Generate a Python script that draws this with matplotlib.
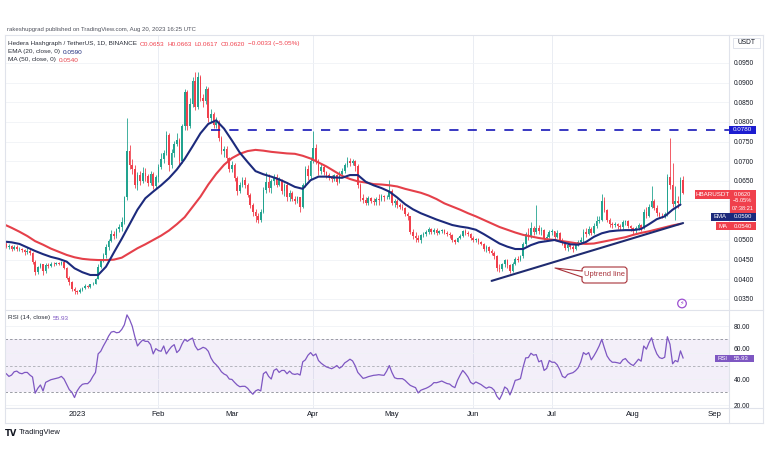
import numpy as np
import pandas as pd
import matplotlib
matplotlib.use("Agg")
import matplotlib.pyplot as plt
import matplotlib.dates as mdates
from matplotlib.patches import Rectangle, FancyBboxPatch, Polygon, Circle
from matplotlib.lines import Line2D
from matplotlib.text import Annotation
from matplotlib.transforms import Affine2D

FONT = ["Liberation Sans Narrow", "Liberation Sans", "DejaVu Sans"]
plt.rcParams["font.family"] = FONT

# ---------------- data (HBAR/USDT daily) ----------------
start_date = "2022-12-04"
first_open = 0.0480

close = [
    # Dec 2022 (4..31)
    0.0490,0.0482,0.0485,0.0478,0.0482,0.0476,0.0478,0.0474,0.0469,0.0473,0.0467,0.0445,0.0418,0.0432,
    0.0438,0.0420,0.0437,0.0435,0.0440,0.0438,0.0442,0.0440,0.0444,0.0430,0.0404,0.0392,0.0376,0.0371,
    # Jan
    0.0368,0.0374,0.0378,0.0383,0.0381,0.0387,0.0389,0.0402,0.0432,0.0448,0.0462,0.0482,0.0498,0.0516,
    0.0511,0.0527,0.0532,0.0545,0.0608,0.0725,0.0690,0.0680,0.0640,0.0665,0.0650,0.0670,0.0662,0.0645,
    0.0668,0.0638,0.0660,
    # Feb
    0.0685,0.0705,0.0720,0.0768,0.0690,0.0720,0.0745,0.0755,0.0700,0.0790,0.0875,0.0790,0.0845,0.0905,
    0.0838,0.0915,0.0860,0.0852,0.0885,0.0810,0.0820,0.0792,0.0800,0.0760,0.0725,0.0730,0.0708,0.0680,
    # Mar
    0.0690,0.0658,0.0625,0.0640,0.0652,0.0640,0.0615,0.0590,0.0572,0.0560,0.0550,0.0572,0.0628,0.0648,
    0.0632,0.0650,0.0660,0.0640,0.0652,0.0625,0.0640,0.0608,0.0620,0.0605,0.0600,0.0608,0.0585,0.0640,
    0.0680,0.0662,0.0700,
    # Apr
    0.0735,0.0700,0.0675,0.0685,0.0672,0.0665,0.0660,0.0655,0.0664,0.0648,0.0668,0.0675,0.0690,0.0702,
    0.0695,0.0700,0.0688,0.0640,0.0607,0.0602,0.0595,0.0606,0.0600,0.0596,0.0605,0.0602,0.0612,0.0608,
    0.0610,0.0625,
    # May
    0.0595,0.0600,0.0590,0.0585,0.0580,0.0565,0.0560,0.0520,0.0510,0.0505,0.0500,0.0512,0.0515,0.0520,
    0.0528,0.0520,0.0526,0.0518,0.0522,0.0525,0.0518,0.0515,0.0512,0.0500,0.0496,0.0505,0.0510,0.0522,
    0.0518,0.0515,0.0505,
    # Jun
    0.0500,0.0502,0.0495,0.0490,0.0478,0.0482,0.0472,0.0468,0.0458,0.0430,0.0425,0.0438,0.0448,0.0436,
    0.0422,0.0440,0.0452,0.0450,0.0458,0.0490,0.0515,0.0508,0.0530,0.0520,0.0530,0.0522,0.0525,0.0505,
    0.0508,0.0520,
    # Jul
    0.0522,0.0508,0.0518,0.0500,0.0492,0.0480,0.0488,0.0482,0.0478,0.0488,0.0495,0.0500,0.0520,0.0515,
    0.0528,0.0518,0.0535,0.0548,0.0552,0.0600,0.0575,0.0550,0.0540,0.0538,0.0540,0.0535,0.0532,0.0545,
    0.0548,0.0535,0.0530,
    # Aug (1..20)
    0.0525,0.0530,0.0538,0.0530,0.0570,0.0562,0.0585,0.0600,0.0582,0.0568,0.0562,0.0560,0.0565,0.0660,
    0.0640,0.0592,0.0600,0.0593,0.0653,0.0620,
]

high = [
    0.0494,0.0496,0.0489,0.0488,0.0486,0.0487,0.0481,0.0480,0.0477,0.0481,0.0478,0.0469,0.0448,0.0435,
    0.0441,0.0440,0.0441,0.0441,0.0443,0.0444,0.0444,0.0445,0.0447,0.0448,0.0432,0.0408,0.0395,0.0380,
    0.0374,0.0377,0.0381,0.0388,0.0386,0.0389,0.0392,0.0404,0.0440,0.0452,0.0466,0.0490,0.0503,0.0525,
    0.0522,0.0531,0.0540,0.0558,0.0613,0.0810,0.0742,0.0705,0.0690,0.0672,0.0675,0.0685,0.0682,0.0668,
    0.0675,0.0672,0.0665,
    0.0692,0.0720,0.0728,0.0778,0.0772,0.0730,0.0752,0.0772,0.0760,0.0796,0.0885,0.0882,0.0860,0.0915,
    0.0927,0.0928,0.0920,0.0872,0.0892,0.0890,0.0832,0.0825,0.0812,0.0806,0.0765,0.0738,0.0738,0.0712,
    0.0702,0.0695,0.0662,0.0648,0.0660,0.0660,0.0645,0.0620,0.0595,0.0578,0.0568,0.0578,0.0635,0.0672,
    0.0668,0.0656,0.0668,0.0668,0.0660,0.0656,0.0645,0.0648,0.0628,0.0625,0.0612,0.0612,0.0610,0.0645,
    0.0688,0.0690,0.0712,
    0.0778,0.0745,0.0705,0.0692,0.0690,0.0676,0.0670,0.0666,0.0668,0.0668,0.0675,0.0682,0.0695,0.0710,
    0.0708,0.0705,0.0703,0.0692,0.0645,0.0618,0.0610,0.0612,0.0610,0.0606,0.0610,0.0618,0.0618,0.0615,
    0.0615,0.0652,
    0.0630,0.0605,0.0605,0.0595,0.0592,0.0584,0.0570,0.0562,0.0528,0.0520,0.0512,0.0516,0.0520,0.0525,
    0.0532,0.0530,0.0530,0.0530,0.0525,0.0528,0.0527,0.0522,0.0520,0.0515,0.0503,0.0508,0.0514,0.0526,
    0.0528,0.0522,0.0518,
    0.0510,0.0506,0.0504,0.0498,0.0493,0.0486,0.0485,0.0476,0.0472,0.0462,0.0438,0.0442,0.0452,0.0452,
    0.0440,0.0444,0.0456,0.0458,0.0462,0.0495,0.0520,0.0530,0.0545,0.0535,0.0590,0.0538,0.0532,0.0528,
    0.0515,0.0525,
    0.0528,0.0524,0.0525,0.0520,0.0505,0.0498,0.0492,0.0490,0.0488,0.0492,0.0500,0.0508,0.0528,0.0530,
    0.0535,0.0532,0.0542,0.0560,0.0560,0.0618,0.0608,0.0578,0.0555,0.0545,0.0545,0.0543,0.0540,0.0550,
    0.0552,0.0550,0.0538,
    0.0534,0.0535,0.0542,0.0540,0.0578,0.0585,0.0592,0.0636,0.0605,0.0588,0.0572,0.0568,0.0572,0.0668,
    0.0759,0.0695,0.0636,0.0612,0.0660,0.0663,
]

low = [
    0.0477,0.0479,0.0477,0.0473,0.0474,0.0472,0.0473,0.0470,0.0463,0.0464,0.0463,0.0440,0.0412,0.0414,
    0.0428,0.0410,0.0417,0.0430,0.0431,0.0434,0.0436,0.0437,0.0437,0.0427,0.0400,0.0386,0.0370,0.0362,
    0.0363,0.0365,0.0371,0.0376,0.0377,0.0378,0.0385,0.0388,0.0400,0.0428,0.0443,0.0455,0.0475,0.0494,
    0.0503,0.0505,0.0520,0.0522,0.0540,0.0602,0.0680,0.0668,0.0633,0.0628,0.0640,0.0645,0.0650,0.0638,
    0.0640,0.0630,0.0632,
    0.0648,0.0680,0.0695,0.0715,0.0675,0.0682,0.0712,0.0738,0.0690,0.0695,0.0780,0.0780,0.0785,0.0838,
    0.0830,0.0832,0.0852,0.0838,0.0845,0.0800,0.0800,0.0785,0.0785,0.0752,0.0718,0.0712,0.0700,0.0672,
    0.0672,0.0650,0.0615,0.0620,0.0634,0.0632,0.0608,0.0582,0.0562,0.0546,0.0542,0.0545,0.0568,0.0620,
    0.0622,0.0620,0.0640,0.0634,0.0636,0.0618,0.0612,0.0598,0.0600,0.0598,0.0592,0.0595,0.0570,0.0580,
    0.0635,0.0652,0.0655,
    0.0695,0.0692,0.0665,0.0668,0.0665,0.0658,0.0652,0.0648,0.0650,0.0640,0.0645,0.0660,0.0670,0.0685,
    0.0688,0.0690,0.0675,0.0632,0.0598,0.0595,0.0588,0.0590,0.0594,0.0588,0.0590,0.0590,0.0598,0.0600,
    0.0603,0.0605,
    0.0588,0.0585,0.0582,0.0578,0.0576,0.0560,0.0552,0.0515,0.0502,0.0495,0.0494,0.0492,0.0508,0.0510,
    0.0515,0.0515,0.0515,0.0512,0.0515,0.0518,0.0514,0.0510,0.0506,0.0495,0.0490,0.0494,0.0502,0.0508,
    0.0512,0.0510,0.0500,
    0.0495,0.0494,0.0491,0.0486,0.0472,0.0470,0.0466,0.0462,0.0452,0.0422,0.0418,0.0420,0.0432,0.0430,
    0.0415,0.0418,0.0436,0.0445,0.0446,0.0455,0.0485,0.0500,0.0505,0.0512,0.0515,0.0515,0.0512,0.0500,
    0.0498,0.0505,
    0.0512,0.0502,0.0505,0.0495,0.0486,0.0475,0.0472,0.0476,0.0470,0.0474,0.0484,0.0490,0.0495,0.0508,
    0.0512,0.0512,0.0515,0.0530,0.0542,0.0548,0.0570,0.0545,0.0532,0.0530,0.0532,0.0528,0.0526,0.0528,
    0.0538,0.0530,0.0522,
    0.0516,0.0518,0.0525,0.0524,0.0528,0.0555,0.0558,0.0580,0.0575,0.0562,0.0556,0.0555,0.0556,0.0562,
    0.0630,0.0585,0.0551,0.0580,0.0588,0.0617,
]

rsi = [
    45,44,42,43,45.5,46,44.5,44,45,45,43,41.5,29.3,33,
    35.5,31,37.5,38.5,39.5,40,40.5,41,42,40,36,32,30,26,
    31,34,36,36.5,36.5,38.5,42,45,59,61,65,68.5,72.5,75.5,
    76,75,75.3,77.5,81,88.5,85,80,72,65,67.5,69.5,68.5,68.5,
    66,59,63,
    61.5,61,65,59,62,64.5,66,60,62,66.5,70,68.5,70,71,
    65,62,62.8,64,63.2,61,56,52.7,50.8,48.5,45.5,43.8,42.8,40,
    39.7,37.5,35.5,34.2,34.5,34.5,33,30.5,28.5,31,32,31,44,45.5,
    42,40,46.5,47.7,45,46.5,46.5,44,46,44,43.5,44,43,53,
    54.5,58,60,
    57.6,59,54,52,50.5,49.2,48.5,47.8,48.8,50.2,48.2,49.5,52.2,53.5,
    55,53.7,50,45,42.8,40.5,41,41.8,42.3,42.8,43,43.3,43,42.8,
    46,50.2,
    45,41,40.3,40.3,40.3,39,37,35.2,34.3,33.5,29.5,31.5,32.3,33,
    34,35.3,37.3,37.2,37.8,38.5,37.5,36.6,36.2,34.5,33.5,39,43,46.5,
    44.3,41.5,37.5,
    36.2,37.8,36.8,35.8,34.3,33,34,33.4,31.5,27,24.5,28.5,34,32.5,
    28,33,39,39.5,40.3,49,56,56.2,59.5,58,58.5,53,54,46.5,
    48,54,
    52.7,52.7,50.8,47,42,41,43.5,44.2,44.8,46.3,48.5,53,60,58.5,
    60,54.5,57.5,61,65,70,63.5,57.5,54.5,52.7,52.7,52.3,51.8,54.5,
    55.5,53,51.3,
    50.2,52.5,55,53.5,65,62.6,67.5,71.2,64,59,56.2,55.5,56.5,72,
    66.3,51.5,54,53,61.3,55.93,
]

indicator_step_days = 3   # EMA / MA every 3 days from start_date
ema20 = [
    0.0496,0.0494,0.0490,0.0481,0.0472,0.0464,0.0457,0.0452,0.0445,0.0428,
    0.0418,0.0411,0.0411,0.0432,0.0468,0.0503,0.0540,0.0577,0.0606,0.0623,
    0.0639,0.0657,0.0679,0.0706,0.0738,0.0771,0.0795,0.0804,0.0783,0.0753,
    0.0722,0.0698,0.0675,0.0667,0.0661,0.0654,0.0645,0.0635,0.0630,0.0652,
    0.0661,0.0661,0.0659,0.0658,0.0665,0.0665,0.0648,0.0639,0.0632,0.0623,
    0.0608,0.0591,0.0578,0.0568,0.0560,0.0552,0.0545,0.0538,0.0534,0.0531,
    0.0526,0.0515,0.0503,0.0491,0.0483,0.0477,0.0477,0.0487,0.0494,0.0497,
    0.0500,0.0494,0.0489,0.0488,0.0495,0.0508,0.0517,0.0522,0.0524,0.0525,
    0.0525,0.0528,0.0540,0.0553,0.0560,0.0577,0.0590,
]
ma50 = [
    0.0540,0.0531,0.0521,0.0510,0.0497,0.0488,0.0478,0.0470,0.0462,0.0456,
    0.0452,0.0450,0.0449,0.0449,0.0450,0.0455,0.0467,0.0479,0.0489,0.0500,
    0.0511,0.0524,0.0540,0.0558,0.0584,0.0610,0.0641,0.0668,0.0691,0.0708,
    0.0719,0.0726,0.0729,0.0727,0.0724,0.0722,0.0720,0.0719,0.0714,0.0707,
    0.0697,0.0687,0.0675,0.0663,0.0655,0.0649,0.0646,0.0642,0.0641,0.0639,
    0.0636,0.0630,0.0625,0.0620,0.0613,0.0604,0.0593,0.0585,0.0577,0.0568,
    0.0560,0.0551,0.0542,0.0533,0.0526,0.0519,0.0513,0.0509,0.0505,0.0502,
    0.0500,0.0497,0.0494,0.0491,0.0490,0.0491,0.0495,0.0499,0.0503,0.0507,
    0.0513,0.0518,0.0522,0.0527,0.0532,0.0537,0.0541,
]

resistance_level = 0.0780
resistance_start = "2023-02-21"
trend_dates = ["2023-06-08", "2023-08-20"]
trend_prices = [0.0396, 0.0543]

price_ticks = [0.035, 0.040, 0.045, 0.050, 0.055, 0.060, 0.065, 0.070, 0.075, 0.080, 0.085, 0.090, 0.095]
hidden_price_ticks = [0.055, 0.060]   # covered by the price-scale label boxes in the reference
rsi_ticks = [20, 40, 60, 80]
month_dates = ["2023-01-01", "2023-02-01", "2023-03-01", "2023-04-01", "2023-05-01",
               "2023-06-01", "2023-07-01", "2023-08-01", "2023-09-01"]
month_labels = ["2023", "Feb", "Mar", "Apr", "May", "Jun", "Jul", "Aug", "Sep"]
grid_dates = ["2023-02-01", "2023-04-01", "2023-06-01", "2023-07-01"]

last_price = 0.0620
ema_last = 0.0590
ma_last = 0.0540
rsi_last = 55.93

assert len(close) == len(high) == len(low) == len(rsi), (len(close), len(high), len(low), len(rsi))
assert len(ema20) == len(ma50)

# ---------------- style ----------------
UP = "#22a38f"
DN = "#f0404c"
EMA_C = "#1c2a7c"
MA_C = "#e5404a"
RES_C = "#1616b8"
TREND_C = "#1f2b70"
RSI_C = "#7e57c2"
FRAME = "#e0e3eb"
GRID = "#f0f2f6"
TXT = "#131722"
CALL_C = "#a8323a"

W, H = 768, 463
fig = plt.figure(figsize=(W / 100, H / 100), dpi=100)
fig.patch.set_facecolor("white")
PX = Affine2D().scale(1.0 / W, -1.0 / H).translate(0, 1) + fig.transFigure  # pixel coords, y down


def fx(px):
    return px / W


def fy(py):
    return 1 - py / H


LEFT, RIGHT = 5, 729
ax = fig.add_axes([fx(LEFT), fy(310), fx(RIGHT) - fx(LEFT), fy(35) - fy(310)])
axr = fig.add_axes([fx(LEFT), fy(408), fx(RIGHT) - fx(LEFT), fy(310) - fy(408)])

dates = pd.date_range(start_date, periods=len(close), freq="D")
xd = mdates.date2num(dates)
jan1 = mdates.date2num(pd.Timestamp("2023-01-01"))
xlim = (jan1 - 27.5, jan1 + 248.5)

c = np.array(close)
h = np.array(high)
l = np.array(low)
o = np.r_[first_open, c[:-1]]
is_up = c >= o
cols = np.where(is_up, UP, DN)

for a in (ax, axr):
    a.set_facecolor("white")
    for s in a.spines.values():
        s.set_visible(False)
    a.set_xlim(*xlim)
    for g in grid_dates:
        a.axvline(mdates.date2num(pd.Timestamp(g)), color="#eaedf3", lw=0.7, zorder=0)

# price pane grid
for v in price_ticks:
    ax.axhline(v, color=GRID, lw=0.6, zorder=0)

# candles
ax.vlines(xd, l, h, colors=cols, linewidth=0.6, zorder=3)
body = np.maximum(np.abs(c - o), 0.00008)
ax.bar(xd, body, bottom=np.minimum(o, c), width=0.62, color=cols, linewidth=0, zorder=4)

# indicators
ind_x = xd[0] + np.arange(len(ema20)) * indicator_step_days
ax.plot(ind_x, ma50, color=MA_C, lw=1.5, zorder=5, solid_capstyle="round")
ax.plot(ind_x, ema20, color=EMA_C, lw=1.5, zorder=6, solid_capstyle="round")

# resistance + uptrend line
ax.hlines(resistance_level, mdates.date2num(pd.Timestamp(resistance_start)), xlim[1],
          colors=RES_C, lw=1.2, linestyles=(0, (5.5, 5.5)), zorder=6)
ax.plot(mdates.date2num(pd.to_datetime(trend_dates)), trend_prices, color=TREND_C, lw=1.5,
        zorder=7, solid_capstyle="round")

ax.set_ylim(0.0322, 0.1021)
ax.yaxis.tick_right()
ax.set_yticks(price_ticks)
ax.set_yticklabels(["" if any(abs(v - t) < 1e-9 for t in hidden_price_ticks) else f"{v:.4f}"
                    for v in price_ticks])
ax.tick_params(axis="y", length=0, pad=3.5, labelsize=4.8, labelcolor=TXT)
ax.tick_params(axis="x", length=0, labelbottom=False, bottom=False)

# RSI pane
axr.axhspan(30, 70, color=RSI_C, alpha=0.09, lw=0, zorder=0)
for v in rsi_ticks:
    axr.axhline(v, color=GRID, lw=0.6, zorder=0)
axr.axhline(70, color="#8a8d96", lw=0.6, ls=(0, (3, 2.5)), zorder=1)
axr.axhline(30, color="#8a8d96", lw=0.6, ls=(0, (3, 2.5)), zorder=1)
axr.axhline(50, color="#a9abb3", lw=0.6, ls=(0, (3, 2.5)), zorder=1)
axr.plot(xd, rsi, color=RSI_C, lw=0.9, zorder=4)
axr.set_ylim(18.1, 92.2)
axr.yaxis.tick_right()
axr.set_yticks(rsi_ticks)
axr.set_yticklabels([f"{v:.2f}" for v in rsi_ticks])
axr.tick_params(axis="y", length=0, pad=3.5, labelsize=4.8, labelcolor=TXT)
for lab, v in zip(axr.get_yticklabels(), rsi_ticks):
    if v == 60:
        lab.set_va("bottom")
axr.set_xticks(mdates.date2num(pd.to_datetime(month_dates)))
axr.set_xticklabels(month_labels)
axr.tick_params(axis="x", length=0, pad=2.5, labelsize=5.6, labelcolor=TXT)


# frame lines (pixel coords)
def pline(xs, ys, color=FRAME, lw=0.8, z=1):
    fig.add_artist(Line2D(xs, ys, transform=PX, color=color, lw=lw, zorder=z))


pline([LEFT, 763], [35, 35])
pline([LEFT, 763], [310, 310])
pline([LEFT, 763], [408, 408])
pline([LEFT, 763], [423, 423])
pline([RIGHT, RIGHT], [35, 423])
pline([LEFT, LEFT], [35, 423])
pline([763, 763], [35, 423])

# header
fig.text(7, 29, "rakeshupgrad published on TradingView.com, Aug 20, 2023 16:25 UTC",
         transform=PX, fontsize=4.3, color="#50535e", va="center", ha="left")


def chain(x, y, parts, size):
    prev = fig.text(x, y, parts[0][0], transform=PX, color=parts[0][1], fontsize=size,
                    va="center", ha="left", zorder=20)
    for s, col in parts[1:]:
        ann = Annotation(s, xy=(1, 0.5), xycoords=prev, xytext=(2.0, 0), textcoords="offset points",
                         color=col, fontsize=size, va="center", ha="left", zorder=20)
        fig.add_artist(ann)
        prev = ann
    return prev


chain(8, 44, [("Hedera Hashgraph / TetherUS, 1D, BINANCE", "#2a2e39"),
              ("O0.0653", DN), ("H0.0663", DN), ("L0.0617", DN), ("C0.0620", DN),
              ("\u22120.0033 (\u22125.05%)", DN)], 4.6)
chain(8, 52, [("EMA (20, close, 0)", "#2a2e39"), (f"{ema_last:.4f}", EMA_C)], 4.6)
chain(8, 60, [("MA (50, close, 0)", "#2a2e39"), (f"{ma_last:.4f}", MA_C)], 4.6)
chain(8, 318, [("RSI (14, close)", "#2a2e39"), (f"{rsi_last:.2f}", RSI_C)], 4.6)


# price-scale label boxes
def pbox(x0, x1, yc, hgt, color, text, size=4.5, tcolor="white"):
    fig.add_artist(Rectangle((x0, yc - hgt / 2), x1 - x0, hgt, transform=PX, facecolor=color,
                             edgecolor="none", zorder=15))
    fig.text((x0 + x1) / 2, yc, text, transform=PX, color=tcolor, fontsize=size, ha="center",
             va="center", zorder=16)


def data_y_px(axis, val):
    disp = axis.transData.transform((xlim[0], val))
    return H - disp[1]


y780 = data_y_px(ax, resistance_level)
pbox(729, 756, y780, 8, "#1c1cd0", f"{resistance_level:.4f}")
pbox(695, 729.5, 194, 9, DN, "HBARUSDT", 4.5)
fig.add_artist(Rectangle((729.5, 189.5), 26.5, 23, transform=PX, facecolor=DN, edgecolor="none", zorder=15))
for yy, s in zip([194, 201, 208], [f"{last_price:.4f}", "\u22125.05%", "07:38:21"]):
    fig.text(742.5, yy, s, transform=PX, color="white", fontsize=4.1, ha="center", va="center", zorder=16)
pbox(711, 729.5, 217, 8.5, EMA_C, "EMA", 4.3)
pbox(729.5, 756, 217, 8.5, EMA_C, f"{ema_last:.4f}", 4.3)
pbox(716, 729.5, 226, 8.5, DN, "MA", 4.3)
pbox(729.5, 756, 226, 8.5, DN, f"{ma_last:.4f}", 4.3)
yrsi = data_y_px(axr, rsi_last)
pbox(715, 729.5, yrsi + 0.5, 7.5, RSI_C, "RSI", 4.3)
pbox(729.5, 754, yrsi + 0.5, 7.5, RSI_C, f"{rsi_last:.2f}", 4.3)

# USDT header box on the price scale
fig.add_artist(Rectangle((733, 38), 27, 10, transform=PX, facecolor="white", edgecolor=FRAME,
                         lw=0.7, zorder=15))
fig.text(746.5, 43, "USDT", transform=PX, color=TXT, fontsize=4.8, ha="center", va="center", zorder=16)

# callout "Uptrend line"
fig.add_artist(FancyBboxPatch((582, 267), 45, 16, boxstyle="round,pad=0,rounding_size=3",
                              transform=PX, facecolor="white", edgecolor=CALL_C, lw=0.8, zorder=12))
fig.add_artist(Polygon([(583, 271.3), (556, 268.2), (583, 276.7)], closed=True, transform=PX,
                       facecolor="white", edgecolor="none", zorder=13))
pline([582, 555, 582], [271, 268, 277], color=CALL_C, lw=0.8, z=13)
fig.text(604.5, 275, "Uptrend line", transform=PX, color=CALL_C, fontsize=5.4, ha="center",
         va="center", zorder=14)

# small lightning icon
fig.add_artist(Circle((682, 303.5), 4.3, transform=PX, facecolor="white", edgecolor="#9c4fd0",
                      lw=0.9, zorder=12))
fig.text(682, 303.7, "\u26a1", transform=PX, color="#9c4fd0", fontsize=4.6, ha="center",
         va="center", zorder=13, family=["DejaVu Sans"])

# TradingView logo
fig.text(5, 433, "TV", transform=PX, color=TXT, fontsize=6.0, weight="bold", ha="left",
         va="center", family=["DejaVu Sans"])
fig.text(19, 433, "TradingView", transform=PX, color=TXT, fontsize=5.4, ha="left", va="center")

fig.savefig("out.png", dpi=100, facecolor="white")
